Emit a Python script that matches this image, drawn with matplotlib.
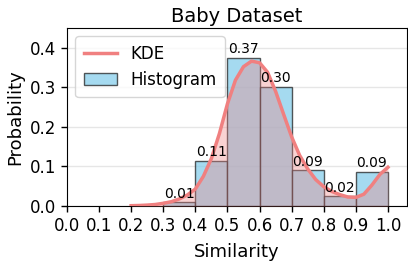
import numpy as np
import matplotlib
matplotlib.use("Agg")
import matplotlib.pyplot as plt

# Histogram data
bin_edges = [0.3, 0.4, 0.5, 0.6, 0.7, 0.8, 0.9, 1.0]
probabilities = [0.0094, 0.1147, 0.374, 0.3015, 0.0903, 0.0245, 0.0871]

# KDE curve
kde_x = [0.20, 0.225, 0.25, 0.275, 0.30, 0.325, 0.35, 0.375, 0.40, 0.425,
         0.45, 0.475, 0.50, 0.525, 0.55, 0.575, 0.60, 0.625, 0.65, 0.675,
         0.70, 0.725, 0.75, 0.775, 0.80, 0.825, 0.85, 0.875, 0.90, 0.925,
         0.95, 0.975, 1.00]
kde_y = [0.001, 0.0015, 0.0025, 0.004, 0.007, 0.011, 0.018, 0.028, 0.043, 0.075,
         0.120, 0.183, 0.258, 0.318, 0.352, 0.366, 0.362, 0.338, 0.290, 0.232,
         0.175, 0.128, 0.094, 0.067, 0.049, 0.037, 0.029, 0.023, 0.022, 0.030,
         0.053, 0.080, 0.098]

xticks = [0.0, 0.1, 0.2, 0.3, 0.4, 0.5, 0.6, 0.7, 0.8, 0.9, 1.0]
yticks = [0.0, 0.1, 0.2, 0.3, 0.4]

fig = plt.figure(figsize=(4.08, 2.68), dpi=100)
ax = fig.add_axes([0.164, 0.231, 0.834, 0.665])

lefts = bin_edges[:-1]
widths = np.diff(bin_edges)
bars = ax.bar(lefts, probabilities, width=widths, align='edge',
              color='#87CEEB', alpha=0.75, edgecolor='#222222', linewidth=1.0,
              label='Histogram', zorder=2)
for b in bars:
    b.set_edgecolor((0.13, 0.13, 0.13, 1.0))

for l, w, p in zip(lefts, widths, probabilities):
    ax.text(l + w / 2, p + 0.004, f"{p:.2f}", ha='center', va='bottom',
            fontsize=10, zorder=5)

ax.fill_between(kde_x, kde_y, color='#F08080', alpha=0.35, linewidth=0, zorder=3)
ax.plot(kde_x, kde_y, color='#F08080', linewidth=2.5, label='KDE', zorder=4)

ax.set_xlim(0, 1.06)
ax.set_ylim(0, 0.45)
ax.set_xticks(xticks)
ax.set_yticks(yticks)
ax.set_xticklabels([f"{t:.1f}" for t in xticks], fontsize=12)
ax.set_yticklabels([f"{t:.1f}" for t in yticks], fontsize=12)
ax.tick_params(length=4, width=1)
ax.yaxis.grid(True, color='#e6e6e6', linewidth=1, zorder=0)
ax.set_axisbelow(True)

ax.set_title("Baby Dataset", fontsize=14, pad=4)
ax.set_xlabel("Similarity", fontsize=13, labelpad=6)
ax.set_ylabel("Probability", fontsize=13)

ax.legend(loc='upper left', fontsize=12, frameon=True, fancybox=True,
          handlelength=2.0, borderpad=0.5)

fig.savefig("out.png", dpi=100)
